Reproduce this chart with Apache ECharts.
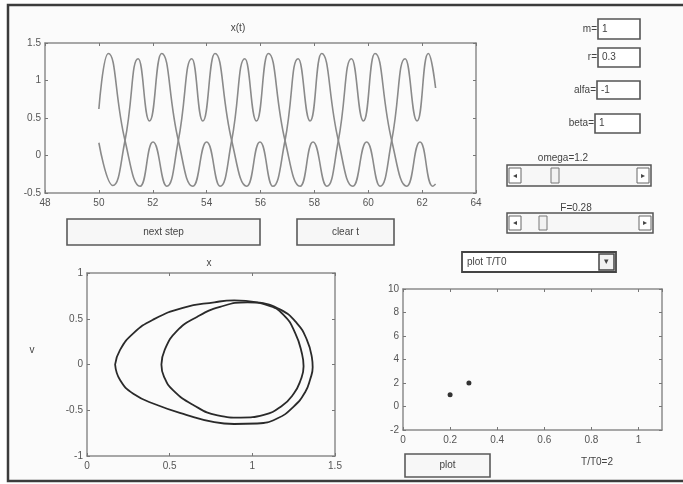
<!DOCTYPE html>
<html>
<head>
<meta charset="utf-8">
<script src="https://cdn.jsdelivr.net/npm/echarts@6/dist/echarts.min.js"></script>
<style>
  html, body { margin: 0; padding: 0; background: #fff; }
  #chart { width: 683px; height: 484px; }
</style>
</head>
<body>
<div id="chart"></div>
<script>
// ── x(t) traces (two curves swapping bands) ──
var timesA = [50.00, 50.35, 50.97, 51.53, 52.01, 52.52, 52.95, 53.45, 53.86, 54.31, 54.93, 55.49, 55.98, 56.46,
  56.91, 57.40, 57.84, 58.27, 58.89, 59.43, 59.94, 60.44, 60.87, 61.37, 61.81, 62.23, 62.50];
var valuesA = [0.62, 1.36, 0.20, -0.41, 0.18, -0.41, 0.20, 1.29, 0.46, 1.36, 0.20, -0.41, 0.18, -0.41,
  0.20, 1.29, 0.46, 1.36, 0.20, -0.41, 0.18, -0.41, 0.20, 1.29, 0.46, 1.36, 0.90];
var timesB = [50.00, 50.52, 50.97, 51.46, 51.88, 52.33, 52.95, 53.49, 54.00, 54.50, 54.93, 55.42, 55.85, 56.29,
  56.91, 57.47, 57.95, 58.46, 58.89, 59.38, 59.82, 60.25, 60.87, 61.43, 61.92, 62.40, 62.50];
var valuesB = [0.17, -0.40, 0.20, 1.29, 0.46, 1.36, 0.20, -0.41, 0.18, -0.41, 0.20, 1.29, 0.46, 1.36,
  0.20, -0.41, 0.18, -0.41, 0.20, 1.29, 0.46, 1.36, 0.20, -0.41, 0.18, -0.41, -0.38];

// ── phase portrait (x, v) ──
var outerX = [0.17, 0.20, 0.28, 0.40, 0.58, 0.77, 0.89, 1.03, 1.17, 1.27, 1.33, 1.36, 1.365, 1.35, 1.32, 1.25,
  1.15, 1.03, 0.89, 0.77, 0.60, 0.42, 0.28, 0.20, 0.17];
var outerV = [0.00, 0.16, 0.34, 0.49, 0.62, 0.68, 0.70, 0.68, 0.60, 0.45, 0.27, 0.08, -0.03, -0.16, -0.30, -0.46,
  -0.59, -0.645, -0.65, -0.63, -0.55, -0.44, -0.32, -0.17, 0.00];
var innerX = [0.45, 0.47, 0.54, 0.665, 0.805, 0.97, 1.09, 1.19, 1.26, 1.30, 1.31, 1.29, 1.25, 1.18, 1.07, 0.93,
  0.79, 0.645, 0.52, 0.465, 0.45];
var innerV = [0.00, 0.16, 0.36, 0.52, 0.63, 0.68, 0.65, 0.54, 0.34, 0.12, -0.02, -0.18, -0.32, -0.45, -0.55, -0.58,
  -0.555, -0.445, -0.28, -0.13, 0.00];

// ── T/T0 against F ──
var forceF = [0.2, 0.28];
var periodRatio = [1, 2];

function zip(a, b) { return a.map(function(v, i) { return [v, b[i]]; }); }

var font = 'Liberation Sans';
var axCol = '#8c8c8c';
var lblCol = '#555';

function axis(grid, min, max, step, pos, labels) {
  return { type: 'value', gridIndex: grid, min: min, max: max, interval: step, position: pos,
    axisLine: { show: true, onZero: false, lineStyle: { color: axCol, width: 1.5 } },
    axisTick: { show: true, inside: true, length: 3, lineStyle: { color: '#777' } },
    axisLabel: { show: labels, color: lblCol, fontSize: 10, fontFamily: font, margin: pos === 'bottom' ? 5 : 4,
      showMaxLabel: max === 1.1 ? false : null },
    splitLine: { show: false } };
}

// ── UI widgets (drawn as graphics) ──
function txt(x, y, s, align, size) {
  return { type: 'text', x: x, y: y, z: 10, style: { text: s, fill: '#444', font: (size || 10) + 'px ' + font,
    textAlign: align || 'center', textVerticalAlign: 'middle' } };
}
function box(x, y, w, h, fill, stroke, lw) {
  return { type: 'rect', z: 10, shape: { x: x, y: y, width: w, height: h },
    style: { fill: fill || '#fafafa', stroke: stroke || '#555', lineWidth: lw || 1.5 } };
}
function button(x, y, w, h, label) {
  return [box(x, y, w, h, '#f7f7f7', '#5a5a5a', 1.6), txt(x + w / 2, y + h / 2, label)];
}
function edit(label, x, y, w, h, val) {
  return [txt(x - 1, y + h / 2, label, 'right'), box(x, y, w, h, '#fff', '#555', 1.6), txt(x + 4, y + h / 2, val, 'left')];
}
function slider(x, y, w, h, thumb) {
  return [
    box(x, y, w, h, '#f7f7f7', '#555', 1.5),
    box(x + 2, y + 3, 12, h - 6, '#fff', '#666', 1),
    txt(x + 8, y + h / 2, '◂', 'center', 8),
    box(x + w - 14, y + 3, 12, h - 6, '#fff', '#666', 1),
    txt(x + w - 8, y + h / 2, '▸', 'center', 8),
    box(thumb, y + 3, 8, h - 6, '#f2f2f2', '#777', 1)
  ];
}

var widgets = [].concat(
  [{ type: 'rect', z: -10, shape: { x: 8, y: 5, width: 700, height: 476 },
     style: { fill: '#fbfbfb', stroke: '#3c3c3c', lineWidth: 2.5 } }],
  txt(238, 28, 'x(t)'),
  txt(209, 263, 'x'),
  txt(32, 350, 'v'),
  txt(597, 462, 'T/T0=2'),
  button(67, 219, 193, 26, 'next step'),
  button(297, 219, 97, 26, 'clear t'),
  button(405, 454, 85, 23, 'plot'),
  edit('m=', 598, 19, 42, 20, '1'),
  edit('r=', 598, 48, 42, 19, '0.3'),
  edit('alfa=', 597, 81, 43, 18, '-1'),
  edit('beta=', 595, 114, 45, 19, '1'),
  txt(563, 158, 'omega=1.2'),
  slider(507, 165, 144, 21, 551),
  txt(576, 208, 'F=0.28'),
  slider(507, 213, 146, 20, 539),
  box(462, 252, 154, 20, '#fff', '#444', 1.8),
  txt(467, 262, 'plot T/T0', 'left'),
  box(599, 254, 15, 16, '#f2f2f2', '#444', 1.5),
  txt(606.5, 262, '▾', 'center', 9)
);

var chart = echarts.init(document.getElementById('chart'), null, { renderer: 'canvas' });
chart.setOption({
  animation: false,
  grid: [
    { left: 45, top: 43, width: 431, height: 150 },
    { left: 87, top: 273, width: 248, height: 183 },
    { left: 403, top: 289, width: 259, height: 141 }
  ],
  xAxis: [
    axis(0, 48, 64, 2, 'bottom', true), axis(0, 48, 64, 2, 'top', false),
    axis(1, 0, 1.5, 0.5, 'bottom', true), axis(1, 0, 1.5, 0.5, 'top', false),
    axis(2, 0, 1.1, 0.2, 'bottom', true), axis(2, 0, 1.1, 0.2, 'top', false)
  ],
  yAxis: [
    axis(0, -0.5, 1.5, 0.5, 'left', true), axis(0, -0.5, 1.5, 0.5, 'right', false),
    axis(1, -1, 1, 0.5, 'left', true), axis(1, -1, 1, 0.5, 'right', false),
    axis(2, -2, 10, 2, 'left', true), axis(2, -2, 10, 2, 'right', false)
  ],
  graphic: { elements: widgets },
  series: [
    { type: 'line', xAxisIndex: 0, yAxisIndex: 0, data: zip(timesA, valuesA), smooth: 0.5, showSymbol: false,
      lineStyle: { color: '#8a8a8a', width: 1.6 } },
    { type: 'line', xAxisIndex: 0, yAxisIndex: 0, data: zip(timesB, valuesB), smooth: 0.5, showSymbol: false,
      lineStyle: { color: '#8a8a8a', width: 1.6 } },
    { type: 'line', xAxisIndex: 2, yAxisIndex: 2, data: zip(outerX, outerV), smooth: 0.5, showSymbol: false,
      lineStyle: { color: '#2a2a2a', width: 1.8 } },
    { type: 'line', xAxisIndex: 2, yAxisIndex: 2, data: zip(innerX, innerV), smooth: 0.5, showSymbol: false,
      lineStyle: { color: '#2a2a2a', width: 1.8 } },
    { type: 'scatter', xAxisIndex: 4, yAxisIndex: 4, data: zip(forceF, periodRatio), symbolSize: 5,
      itemStyle: { color: '#000' } }
  ]
});
</script>
</body>
</html>
